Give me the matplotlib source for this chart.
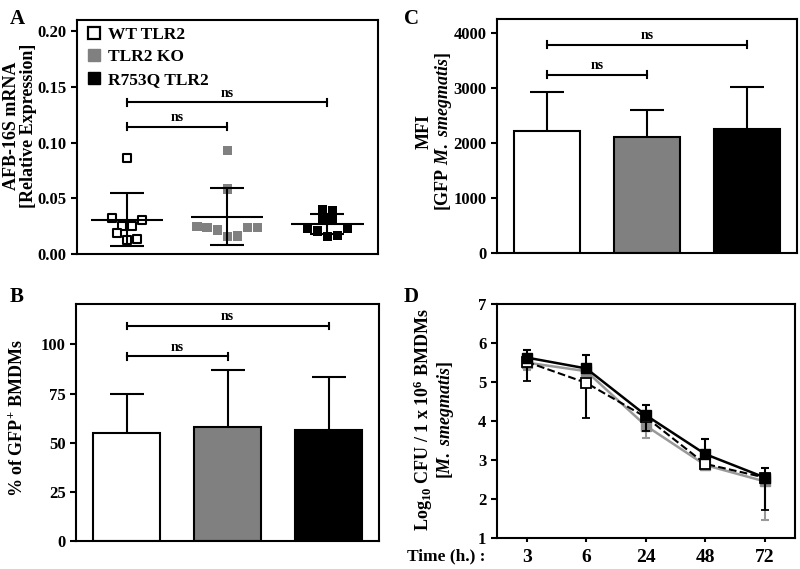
import numpy as np
import matplotlib
matplotlib.use('Agg')
import matplotlib.pyplot as plt
from matplotlib.lines import Line2D

plt.rcParams['font.family'] = 'Liberation Serif'
plt.rcParams['font.weight'] = 'bold'
plt.rcParams['axes.labelweight'] = 'bold'
plt.rcParams['mathtext.fontset'] = 'custom'
plt.rcParams['mathtext.rm'] = 'Liberation Serif:bold'
plt.rcParams['mathtext.it'] = 'Liberation Serif:bold:italic'
plt.rcParams['mathtext.bf'] = 'Liberation Serif:bold'

groups = ['WT TLR2', 'TLR2 KO', 'R753Q TLR2']
group_colors = ['white', 'gray', 'black']

# Panel A - AFB-16S mRNA, individual animals
afb_wt = [0.0865, 0.0326, 0.0254, 0.0254, 0.0305, 0.0186, 0.0126, 0.0135]
afb_ko = [0.0930, 0.0584, 0.0246, 0.0240, 0.0216, 0.0156, 0.0162, 0.0240, 0.0240]
afb_r753q = [0.0401, 0.0389, 0.0320, 0.0305, 0.0228, 0.0207, 0.0156, 0.0168, 0.0228]

# Panel B - % GFP+ BMDMs
gfp_pct_mean = [55.0, 58.0, 56.5]
gfp_pct_sd = [19.5, 29.0, 27.0]

# Panel C - MFI
mfi_mean = [2210, 2110, 2250]
mfi_sd = [720, 490, 770]

# Panel D - CFU time course
time_labels = ['3', '6', '24', '48', '72']
cfu_wt = [5.52, 4.98, 4.10, 2.90, 2.55]
cfu_wt_err_low = [0.49, 0.91, 0.36, 0.05, 0.83]
cfu_ko = [5.50, 5.28, 3.88, 2.87, 2.45]
cfu_ko_err_low = [0.20, 0.10, 0.31, 0.05, 0.98]
cfu_r753q = [5.63, 5.35, 4.15, 3.15, 2.55]
cfu_r753q_err_up = [0.19, 0.35, 0.25, 0.38, 0.25]

# significance brackets: (group_a, group_b, height)
sig_a = [(0, 1, 0.1144), (0, 2, 0.1362)]
sig_b = [(0, 1, 93.9), (0, 2, 109.3)]
sig_c = [(0, 1, 3242), (0, 2, 3788)]

LW = 1.5
TICKFS = 12
LABELFS = 13


def style_box(ax):
    for s in ax.spines.values():
        s.set_linewidth(LW)
    ax.tick_params(axis='y', direction='out', length=4, width=LW, labelsize=TICKFS)
    for lab in ax.get_yticklabels():
        lab.set_fontweight('bold')


def add_sig(ax, brackets, capsize):
    for a, b, h in brackets:
        ax.plot([a, b], [h, h], color='black', lw=LW)
        ax.plot([a, a], [h - capsize, h + capsize], color='black', lw=LW)
        ax.plot([b, b], [h - capsize, h + capsize], color='black', lw=LW)
        ax.text((a + b) / 2, h + capsize * 0.8, 'ns', ha='center', va='bottom',
                fontsize=10, fontweight='bold')


def swarm_x(vals, center, row_h=0.0125, step=0.1):
    vals = np.asarray(vals)
    rows = np.floor(vals / row_h).astype(int)
    xs = np.zeros(len(vals))
    for r in np.unique(rows):
        idx = np.where(rows == r)[0]
        n = len(idx)
        xs[idx] = center + (np.arange(n) - (n - 1) / 2) * step
    return xs


def bar_panel(ax, means, sds):
    x = np.arange(len(means))
    ax.bar(x, means, width=0.66, color=group_colors, edgecolor='black', linewidth=LW, zorder=2)
    ax.errorbar(x, means, yerr=sds, fmt='none', ecolor='black', elinewidth=LW,
                capsize=12, capthick=LW, zorder=1)
    ax.set_xlim(-0.5, 2.5)
    ax.set_xticks([])


fig = plt.figure(figsize=(8, 5.69), dpi=100)

# ---------- A ----------
axA = fig.add_axes([0.096, 0.5536, 0.376, 0.411])
for i, (vals, col) in enumerate(zip([afb_wt, afb_ko, afb_r753q], group_colors)):
    xs = swarm_x(vals, i)
    if col == 'white':
        axA.scatter(xs, vals, s=38, marker='s', facecolor='white', edgecolor='black',
                    linewidth=1.5, zorder=3)
    else:
        axA.scatter(xs, vals, s=45, marker='s', facecolor=col, edgecolor='none', zorder=3)
    m = np.mean(vals)
    sd = np.std(vals, ddof=1)
    axA.hlines(m, i - 0.36, i + 0.36, color='black', lw=LW, zorder=4)
    axA.errorbar(i, m, yerr=sd, fmt='none', ecolor='black', elinewidth=LW,
                 capsize=12, capthick=LW, zorder=4)
axA.set_xlim(-0.5, 2.5)
axA.set_ylim(0, 0.21)
axA.set_yticks([0, 0.05, 0.10, 0.15, 0.20])
axA.set_yticklabels(['0.00', '0.05', '0.10', '0.15', '0.20'])
axA.set_xticks([])
axA.set_ylabel('AFB-16S mRNA\n[Relative Expression]', fontsize=LABELFS, linespacing=1.0)
axA.yaxis.set_label_coords(-0.133, 0.547)
add_sig(axA, sig_a, 0.003)
handles = [Line2D([], [], marker='s', ls='none', markersize=8.5, markerfacecolor='white',
                  markeredgecolor='black', markeredgewidth=1.6),
           Line2D([], [], marker='s', ls='none', markersize=8.5, markerfacecolor='gray',
                  markeredgecolor='gray'),
           Line2D([], [], marker='s', ls='none', markersize=8.5, markerfacecolor='black',
                  markeredgecolor='black')]
axA.legend(handles, groups, loc='upper left', frameon=False,
           handletextpad=0.2, borderaxespad=0.0, labelspacing=0.35, handlelength=1.2,
           bbox_to_anchor=(0.0, 1.0), prop={'weight': 'bold', 'size': 12.5})
style_box(axA)

# ---------- C ----------
axC = fig.add_axes([0.621, 0.5554, 0.375, 0.411])
bar_panel(axC, mfi_mean, mfi_sd)
axC.set_ylim(0, 4250)
axC.set_yticks([0, 1000, 2000, 3000, 4000])
axC.set_ylabel('MFI\n[GFP $\\mathit{M.\\ smegmatis}$]', fontsize=LABELFS, linespacing=1.0)
axC.yaxis.set_label_coords(-0.143, 0.52)
add_sig(axC, sig_c, 60)
style_box(axC)

# ---------- B ----------
axB = fig.add_axes([0.095, 0.0492, 0.379, 0.4165])
bar_panel(axB, gfp_pct_mean, gfp_pct_sd)
axB.set_ylim(0, 120.5)
axB.set_yticks([0, 25, 50, 75, 100])
axB.set_ylabel('% of GFP$^{+}$ BMDMs', fontsize=LABELFS)
axB.yaxis.set_label_coords(-0.165, 0.52)
add_sig(axB, sig_b, 1.7)
style_box(axB)

# ---------- D ----------
axD = fig.add_axes([0.621, 0.0545, 0.3725, 0.411])
t = np.arange(len(time_labels))
axD.errorbar(t, cfu_wt, yerr=[cfu_wt_err_low, np.zeros(5)], color='black', ls='--',
             lw=1.5, ecolor='black', elinewidth=LW, capsize=3, capthick=LW,
             marker='s', markersize=7, markerfacecolor='white', markeredgecolor='black',
             markeredgewidth=1.3, zorder=3)
axD.errorbar(t, cfu_ko, yerr=[cfu_ko_err_low, np.zeros(5)], color='#999999', ls='-',
             lw=1.8, ecolor='#999999', elinewidth=LW, capsize=3, capthick=LW,
             marker='s', markersize=7, markerfacecolor='#8c8c8c', markeredgecolor='#8c8c8c',
             zorder=2)
axD.errorbar(t, cfu_r753q, yerr=[np.zeros(5), cfu_r753q_err_up], color='black', ls='-',
             lw=1.8, ecolor='black', elinewidth=LW, capsize=3, capthick=LW,
             marker='s', markersize=7, markerfacecolor='black', markeredgecolor='black',
             zorder=4)
axD.set_xlim(-0.5, 4.5)
axD.set_ylim(1, 7)
axD.set_yticks([1, 2, 3, 4, 5, 6, 7])
axD.set_xticks(t)
axD.set_xticklabels(time_labels, fontsize=14, fontweight='bold')
axD.tick_params(axis='x', length=3, width=LW, pad=5)
axD.set_ylabel('Log$_{10}$ CFU / 1 x 10$^{6}$ BMDMs\n[$\\mathit{M.\\ smegmatis}$]',
               fontsize=LABELFS, linespacing=1.0)
axD.yaxis.set_label_coords(-0.138, 0.504)
fig.text(0.509, 0.0225, 'Time (h.) :', ha='left', va='center',
         fontsize=12.5, fontweight='bold')
style_box(axD)

# panel letters
for lab, x, y in [('A', 0.012, 0.985), ('C', 0.505, 0.985), ('B', 0.012, 0.495), ('D', 0.505, 0.495)]:
    fig.text(x, y, lab, fontsize=15, fontweight='bold', va='top', ha='left')

fig.savefig('out.png', dpi=100)
